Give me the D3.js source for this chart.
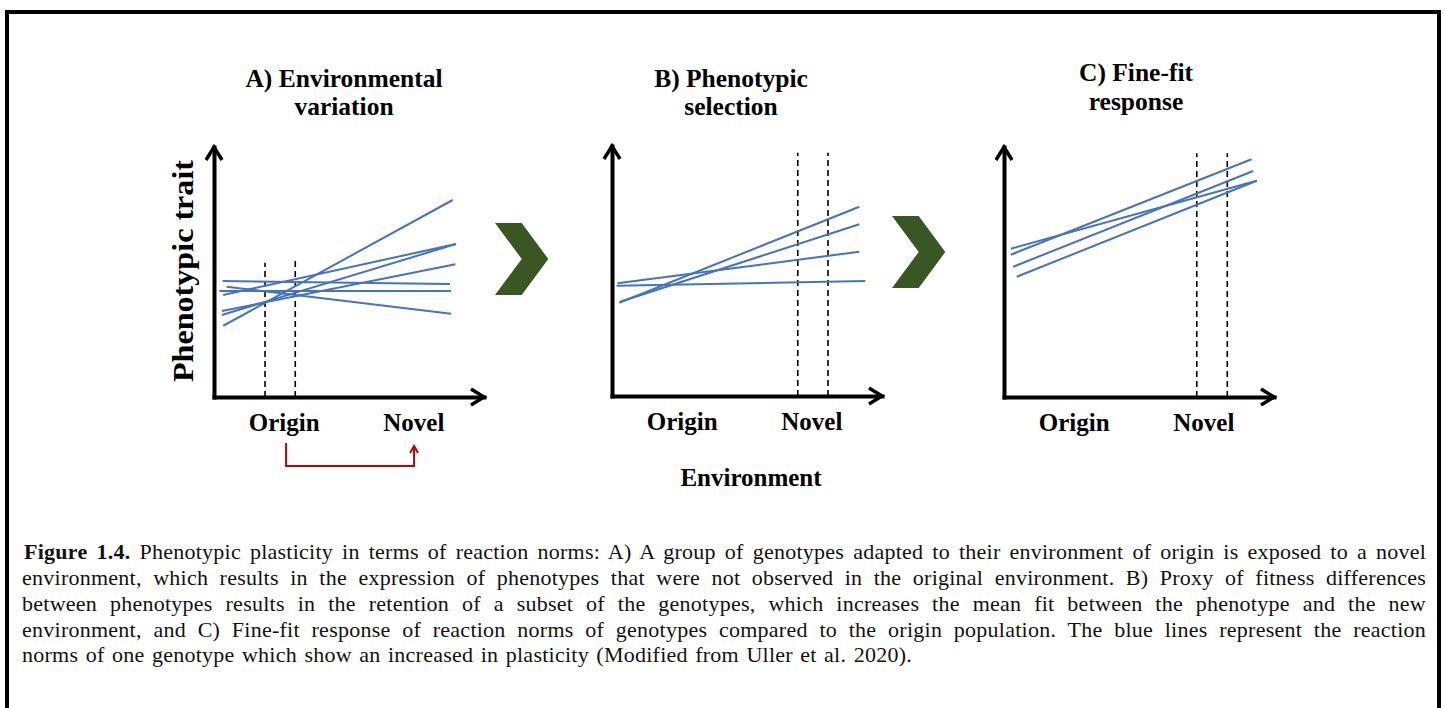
<!DOCTYPE html>
<html>
<head>
<meta charset="utf-8">
<script src="https://cdn.jsdelivr.net/npm/d3@7"></script>
<style>
  html, body { margin: 0; padding: 0; background: #fff; }
  svg { display: block; }
</style>
</head>
<body>
<svg id="chart" width="1445" height="708"></svg>
<script>
// ---------------- DATA ----------------
const panelIds = ["A", "B", "C"];
const titleLines = [
  ["A) Environmental", "variation"],
  ["B) Phenotypic", "selection"],
  ["C) Fine-fit", "response"]
];
const xCategoryLabels = ["Origin", "Novel"];
const xCategoryPos = [2.6, 7.4];
const yAxisLabel = "Phenotypic trait";
const xAxisLabel = "Environment";

// reaction norms: [env start, trait start, env end, trait end]
const normsA = [
  [0.34, 2.85, 8.84, 7.88],
  [0.34, 4.08, 8.96, 6.12],
  [0.29, 3.28, 8.96, 6.12],
  [0.29, 3.44, 8.94, 5.31],
  [0.32, 4.64, 8.74, 4.52],
  [0.20, 4.24, 8.78, 4.24],
  [0.47, 4.41, 8.78, 3.33]
];
const normsB = [
  [0.27, 3.73, 9.16, 7.57],
  [0.30, 3.77, 9.16, 6.87],
  [0.20, 4.51, 9.16, 5.77],
  [0.17, 4.41, 9.38, 4.60]
];
const normsC = [
  [0.25, 5.69, 9.17, 9.51],
  [0.25, 5.93, 9.36, 8.65],
  [0.34, 5.21, 9.23, 9.04],
  [0.47, 4.81, 9.36, 8.65]
];
// dashed environment markers: [env, top trait]
const dashA = [[1.89, 5.37], [3.01, 5.52]];
const dashB = [[6.88, 9.73], [8.00, 9.73]];
const dashC = [[7.14, 9.75], [8.27, 9.75]];

// red arrow (panel A) from origin to novel environment
const shiftArrow = [2.67, 7.41];

const captionBold = "Figure 1.4.";
const captionLines = [
  " Phenotypic plasticity in terms of reaction norms: A) A group of genotypes adapted to their environment of origin is exposed to a novel",
  "environment, which results in the expression of phenotypes that were not observed in the original environment. B) Proxy of fitness differences",
  "between phenotypes results in the retention of a subset of the genotypes, which increases the mean fit between the phenotype and the new",
  "environment, and C) Fine-fit response of reaction norms of genotypes compared to the origin population. The blue lines represent the reaction",
  "norms of one genotype which show an increased in plasticity (Modified from Uller et al. 2020)."
];

// ---------------- LAYOUT ----------------
const svg = d3.select("#chart");
const W = 270, H = 250;
const layout = [
  { ox: 214, oy: 397, tx: 344, ty: [87, 115], norms: normsA, dash: dashA },
  { ox: 612, oy: 396, tx: 731, ty: [87, 115], norms: normsB, dash: dashB },
  { ox: 1004, oy: 397, tx: 1136, ty: [81, 110], norms: normsC, dash: dashC }
];
const serif = "'Liberation Serif', 'DejaVu Serif', serif";
const blue = "#4472C4";

// frame
svg.append("rect")
  .attr("x", 7).attr("y", 12).attr("width", 1432).attr("height", 760)
  .attr("fill", "none").attr("stroke", "#000").attr("stroke-width", 4);

layout.forEach((p, i) => {
  const x = d3.scaleLinear().domain([0, 10]).range([p.ox, p.ox + W]);
  const y = d3.scaleLinear().domain([0, 10]).range([p.oy, p.oy - H]);
  const g = svg.append("g");

  // title
  titleLines[i].forEach((t, k) => {
    g.append("text")
      .attr("x", p.tx).attr("y", p.ty[k])
      .attr("text-anchor", "middle")
      .attr("font-family", serif).attr("font-weight", "bold")
      .attr("font-size", 25.5)
      .text(t);
  });

  // dashed markers
  g.selectAll("line.dash").data(p.dash).enter().append("line")
    .attr("x1", d => x(d[0])).attr("x2", d => x(d[0]))
    .attr("y1", y(0)).attr("y2", d => y(d[1]))
    .attr("stroke", "#000").attr("stroke-width", 1.6)
    .attr("stroke-dasharray", "6,4");

  // reaction norms
  g.selectAll("line.norm").data(p.norms).enter().append("line")
    .attr("x1", d => x(d[0])).attr("y1", d => y(d[1]))
    .attr("x2", d => x(d[2])).attr("y2", d => y(d[3]))
    .attr("stroke", blue).attr("stroke-width", 2);

  // axes
  const xAxis = g.append("g").attr("transform", `translate(0,${p.oy})`)
    .call(d3.axisBottom(x).tickValues([]).tickSizeOuter(0));
  const yAxis = g.append("g").attr("transform", `translate(${p.ox},0)`)
    .call(d3.axisLeft(y).tickValues([]).tickSizeOuter(0));
  [xAxis, yAxis].forEach(a => a.select(".domain")
    .attr("stroke", "#000").attr("stroke-width", 4).attr("stroke-linecap", "square"));

  // arrowheads
  const tipX = x(10), tipY = y(10);
  g.append("path")
    .attr("d", `M${tipX - 13},${p.oy - 8}L${tipX},${p.oy}L${tipX - 13},${p.oy + 8}`)
    .attr("fill", "none").attr("stroke", "#000").attr("stroke-width", 3.5);
  g.append("path")
    .attr("d", `M${p.ox - 8},${tipY + 13}L${p.ox},${tipY}L${p.ox + 8},${tipY + 13}`)
    .attr("fill", "none").attr("stroke", "#000").attr("stroke-width", 3.5);

  // category labels
  g.selectAll("text.cat").data(xCategoryLabels).enter().append("text")
    .attr("x", (d, k) => x(xCategoryPos[k])).attr("y", p.oy + 34)
    .attr("text-anchor", "middle")
    .attr("font-family", serif).attr("font-weight", "bold")
    .attr("font-size", 25)
    .text(d => d);

  if (i === 0) {
    // y label
    g.append("text")
      .attr("transform", `translate(193,271) rotate(-90)`)
      .attr("text-anchor", "middle")
      .attr("font-family", serif).attr("font-weight", "bold")
      .attr("font-size", 30)
      .attr("textLength", 222).attr("lengthAdjust", "spacingAndGlyphs")
      .text(yAxisLabel);
    // red shift arrow
    const ax0 = x(shiftArrow[0]), ax1 = x(shiftArrow[1]);
    g.append("path")
      .attr("d", `M${ax0},443V466H${ax1}V447`)
      .attr("fill", "none").attr("stroke", "#C00000").attr("stroke-width", 2);
    g.append("path")
      .attr("d", `M${ax1 - 4},453L${ax1},446L${ax1 + 4},453`)
      .attr("fill", "none").attr("stroke", "#C00000").attr("stroke-width", 2);
  }
});

// environment label
svg.append("text")
  .attr("x", 751).attr("y", 486).attr("text-anchor", "middle")
  .attr("font-family", serif).attr("font-weight", "bold").attr("font-size", 25)
  .text(xAxisLabel);

// chevrons
const chevron = (x0, y0) => `M${x0},${y0}L${x0 + 26.7},${y0}L${x0 + 53.3},${y0 + 36}L${x0 + 26.7},${y0 + 72}L${x0},${y0 + 72}L${x0 + 26.7},${y0 + 36}Z`;
[[495, 223], [892, 216]].forEach(c => {
  svg.append("path").attr("d", chevron(c[0], c[1])).attr("fill", "#385723");
});

// caption (justified: light letter spacing + word spacing)
const capBase = [559, 585, 611, 637, 662];
const capTarget = [1402, 1404, 1404, 1404, 890];
captionLines.forEach((line, k) => {
  const x0 = k === 0 ? 24 : 22;
  const t = svg.append("text")
    .attr("x", x0).attr("y", capBase[k])
    .attr("font-family", serif).attr("font-size", 22).attr("fill", "#111")
    .attr("letter-spacing", 0.25);
  if (k === 0) {
    t.append("tspan").attr("font-weight", "bold").text(captionBold);
  }
  t.append("tspan").text(line);
  const natural = t.node().getComputedTextLength();
  const full = (k === 0 ? captionBold : "") + line;
  const spaces = (full.match(/ /g) || []).length;
  const extra = (capTarget[k] - natural) / Math.max(spaces, 1);
  t.attr("word-spacing", extra.toFixed(2));
});
</script>
</body>
</html>
